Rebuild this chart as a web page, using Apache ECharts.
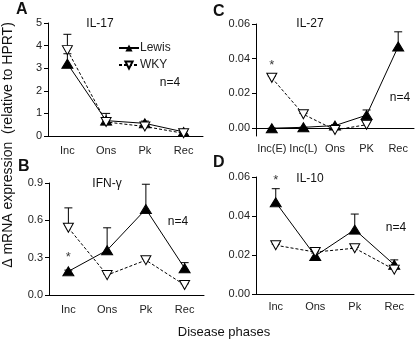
<!DOCTYPE html>
<html>
<head>
<meta charset="utf-8">
<script src="https://cdn.jsdelivr.net/npm/echarts@6/dist/echarts.min.js"></script>
<style>
  html, body { margin: 0; padding: 0; background: #fff; }
  #main { width: 416px; height: 340px; }
</style>
</head>
<body>
<div id="main"></div>
<script>
var chart = echarts.init(document.getElementById('main'));

// categories
var phases = ['Inc', 'Ons', 'Pk', 'Rec'];
var phasesC = ['Inc(E)', 'Inc(L)', 'Ons', 'PK', 'Rec'];

// IL-17 (A)
var il17Lewis = [3.2, 0.68, 0.56, 0.18];
var il17LewisTop = [3.64, 1.0, 0.66, 0.26];
var il17Wky = [3.8, 0.62, 0.42, 0.12];
var il17WkyTop = [4.5, 0.72, 0.48, 0.2];

// IFN-gamma (B)
var ifnLewis = [0.19, 0.36, 0.69, 0.215];
var ifnLewisTop = [0.2, 0.54, 0.89, 0.26];
var ifnWky = [0.54, 0.16, 0.28, 0.08];
var ifnWkyTop = [0.70, 0.17, 0.29, 0.09];

// IL-27 (C)
var il27Lewis = [0, 0.0005, 0.0015, 0.0075, 0.047];
var il27LewisTop = [0, 0.0005, 0.002, 0.0105, 0.0555];
var il27Wky = [0.029, 0.008, -0.001, 0.002, null];
var il27WkyTop = [0.03, 0.0085, -0.0005, 0.0045, null];

// IL-10 (D)
var il10Lewis = [0.047, 0.0195, 0.033, 0.015];
var il10LewisTop = [0.054, 0.021, 0.041, 0.0175];
var il10Wky = [0.025, 0.0215, 0.0235, 0.0125];
var il10WkyTop = [0.0255, 0.022, 0.024, 0.013];

// significance stars: [category index, value]
var starsB = [[0, 0.3], [2, 0.95]];
var starsC = [[0, 0.036]];
var starsD = [[0, 0.058]];

var FONT = 'Arial, "Liberation Sans", sans-serif';
var txt = '#222';

function xAx(idx, cats, margin) {
  return {
    type: 'category', gridIndex: idx, data: cats, boundaryGap: true,
    axisLine: { lineStyle: { color: '#000', width: 1 } },
    axisTick: { alignWithLabel: true, length: 3, lineStyle: { color: '#000' } },
    axisLabel: { color: txt, fontSize: 11, fontFamily: FONT, margin: margin || 8, interval: 0 },
    splitLine: { show: false }
  };
}

function yAx(idx, min, max, ticks, digits) {
  return {
    type: 'value', gridIndex: idx, min: min, max: max,
    axisLine: { show: true, lineStyle: { color: '#000', width: 1 } },
    axisTick: { show: true, length: 4, customValues: ticks, lineStyle: { color: '#000' } },
    axisLabel: {
      color: txt, fontSize: 11, fontFamily: FONT, margin: 6, customValues: ticks,
      formatter: function (v) { return v.toFixed(digits); }
    },
    splitLine: { show: false }
  };
}

function lewis(idx, vals, name) {
  return {
    name: name, type: 'line', xAxisIndex: idx, yAxisIndex: idx, data: vals,
    symbol: 'triangle', symbolSize: [11, 9], clip: false,
    lineStyle: { color: '#000', width: 1 },
    itemStyle: { color: '#000', borderColor: '#000' },
    z: 3, animation: false
  };
}

function wky(idx, vals, name) {
  return {
    name: name, type: 'line', xAxisIndex: idx, yAxisIndex: idx, data: vals,
    symbol: 'triangle', symbolRotate: 180, symbolSize: [10, 9], clip: false,
    lineStyle: { color: '#000', width: 1, type: [3, 2] },
    itemStyle: { color: '#fff', borderColor: '#000', borderWidth: 1 },
    z: 4, animation: false
  };
}

function errBars(idx, vals, tops) {
  var d = [];
  for (var i = 0; i < vals.length; i++) {
    if (vals[i] == null || tops[i] == null) continue;
    d.push([i, vals[i], tops[i]]);
  }
  return {
    type: 'custom', xAxisIndex: idx, yAxisIndex: idx, data: d, silent: true,
    z: 2, animation: false,
    renderItem: function (params, api) {
      var p0 = api.coord([api.value(0), api.value(1)]);
      var p1 = api.coord([api.value(0), api.value(2)]);
      var st = { stroke: '#000', lineWidth: 1 };
      return {
        type: 'group',
        children: [
          { type: 'line', shape: { x1: p0[0], y1: p0[1], x2: p1[0], y2: p1[1] }, style: st },
          { type: 'line', shape: { x1: p1[0] - 4, y1: p1[1], x2: p1[0] + 4, y2: p1[1] }, style: st }
        ]
      };
    }
  };
}

function stars(idx, pts) {
  return {
    type: 'scatter', xAxisIndex: idx, yAxisIndex: idx, data: pts,
    symbolSize: 1, itemStyle: { color: 'transparent' }, silent: true, animation: false,
    label: { show: true, position: 'inside', formatter: '*', fontSize: 13, color: '#000', fontFamily: FONT }
  };
}

function text(x, y, s, opt) {
  var o = {
    type: 'text', x: x, y: y,
    style: { text: s, fill: '#111', font: (opt && opt.font) || ('12px ' + FONT),
      textAlign: (opt && opt.align) || 'left', textVerticalAlign: 'middle' }
  };
  if (opt && opt.rotation) o.rotation = opt.rotation;
  return o;
}

var option = {
  backgroundColor: '#fff',
  animation: false,
  grid: [
    { left: 48, top: 23, width: 155, height: 113 },
    { left: 49, top: 183, width: 155, height: 112 },
    { left: 256, top: 24, width: 158, height: 112 },
    { left: 256, top: 177, width: 158, height: 117 }
  ],
  xAxis: [xAx(0, phases, 9), xAx(1, phases, 9), xAx(2, phasesC, 7), xAx(3, phases, 7)],
  yAxis: [
    yAx(0, 0, 5, [0, 1, 2, 3, 4, 5], 0),
    yAx(1, 0, 0.9, [0, 0.3, 0.6, 0.9], 1),
    yAx(2, -0.0045, 0.06, [0, 0.02, 0.04, 0.06], 2),
    yAx(3, 0, 0.06, [0, 0.02, 0.04, 0.06], 2)
  ],
  legend: {
    left: 113, top: 37, orient: 'vertical', itemGap: 5,
    itemWidth: 20, itemHeight: 9,
    data: ['Lewis', 'WKY'],
    textStyle: { color: txt, fontSize: 12, fontFamily: FONT, padding: [0, 0, 0, -4] }
  },
  series: [
    errBars(0, il17Lewis, il17LewisTop), errBars(0, il17Wky, il17WkyTop),
    lewis(0, il17Lewis, 'Lewis'), wky(0, il17Wky, 'WKY'),
    errBars(1, ifnLewis, ifnLewisTop), errBars(1, ifnWky, ifnWkyTop),
    lewis(1, ifnLewis), wky(1, ifnWky), stars(1, starsB),
    errBars(2, il27Lewis, il27LewisTop), errBars(2, il27Wky, il27WkyTop),
    lewis(2, il27Lewis), wky(2, il27Wky), stars(2, starsC),
    errBars(3, il10Lewis, il10LewisTop), errBars(3, il10Wky, il10WkyTop),
    lewis(3, il10Lewis), wky(3, il10Wky), stars(3, starsD)
  ],
  graphic: [
    text(16, 10, 'A', { font: 'bold 16px ' + FONT }),
    text(18, 167, 'B', { font: 'bold 16px ' + FONT }),
    text(213, 12, 'C', { font: 'bold 16px ' + FONT }),
    text(213, 163, 'D', { font: 'bold 16px ' + FONT }),
    text(100, 24, 'IL-17', { align: 'center' }),
    text(107, 184, 'IFN-γ', { align: 'center' }),
    text(310, 24, 'IL-27', { align: 'center' }),
    text(310, 179, 'IL-10', { align: 'center' }),
    text(170, 83, 'n=4', { align: 'center' }),
    text(178, 222, 'n=4', { align: 'center' }),
    text(400, 98, 'n=4', { align: 'center' }),
    text(396, 228, 'n=4', { align: 'center' }),
    text(224, 332, 'Disease phases', { align: 'center', font: '13px ' + FONT }),
    text(8, 145, 'Δ mRNA expression  (relative to HPRT)', { align: 'center', rotation: Math.PI / 2, font: '14px ' + FONT })
  ]
};

chart.setOption(option);
window.onresize = chart.resize;
</script>
</body>
</html>
